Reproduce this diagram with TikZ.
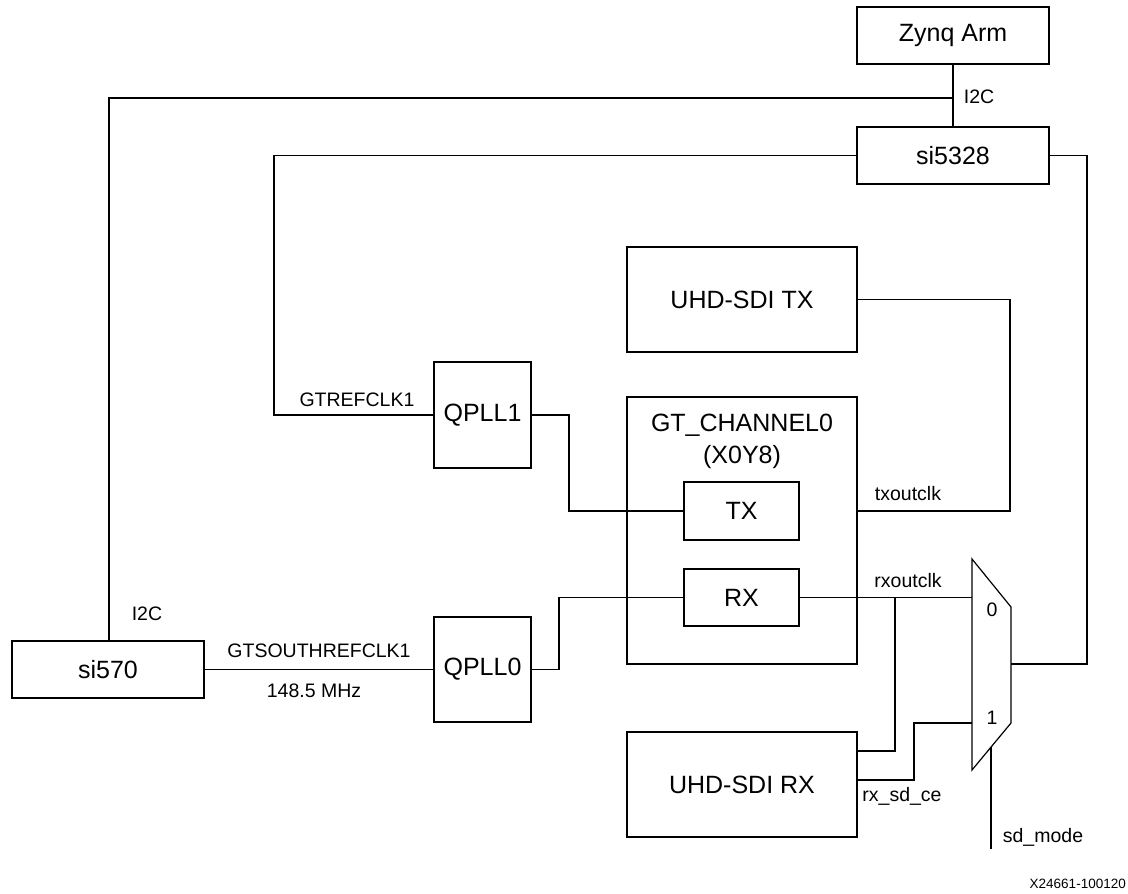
\documentclass[tikz,border=0pt]{standalone}
\usepackage{fontspec}
\setmainfont{Liberation Sans}
\begin{document}
\begin{tikzpicture}[x=1pt,y=-1pt,
  box/.style={draw,line width=1.2pt,inner sep=0pt,font=\fontsize{25}{28}\selectfont},
  lbl/.style={inner sep=0pt,font=\fontsize{19.5}{22}\selectfont},
  wire/.style={line width=1.2pt}]
\useasboundingbox (0,0) rectangle (1128,894);
% boxes
\node[box,minimum width=192pt,minimum height=57pt] (zynq) at (953,35.5) {Zynq Arm};
\node[box,minimum width=192pt,minimum height=57pt] (si5328) at (953,155.5) {si5328};
\node[box,minimum width=230pt,minimum height=105pt] (uhdtx) at (742,299.5) {UHD-SDI TX};
\node[box,minimum width=230pt,minimum height=267pt] (gt) at (742,530.5) {};
\node[inner sep=0pt,align=center,font=\fontsize{25}{32}\selectfont] (gtlbl) at (742,441) {GT\_CHANNEL0\\(X0Y8)};
\node[box,minimum width=115pt,minimum height=58pt] (tx) at (741.5,511) {TX};
\node[box,minimum width=115pt,minimum height=57pt] (rx) at (741.5,597.5) {RX};
\node[box,minimum width=97pt,minimum height=106pt] (qpll1) at (482.5,415) {QPLL1};
\node[box,minimum width=97pt,minimum height=105pt] (qpll0) at (482.5,669.5) {QPLL0};
\node[box,minimum width=192pt,minimum height=57pt] (si570) at (108,669.5) {si570};
\node[box,minimum width=230pt,minimum height=105pt] (uhdrx) at (742,784.5) {UHD-SDI RX};
% mux
\coordinate (m1) at (972,559);
\coordinate (m2) at (1011,607);
\coordinate (m3) at (1011,723);
\coordinate (m4) at (972,770);
\draw[wire] (m1) -- (m2) -- (m3) -- (m4) -- cycle;
\coordinate (in0) at (972,597.5);
\coordinate (in1) at (972,723);
\coordinate (mout) at (1011,664);
\coordinate (msel) at (991,747);
\coordinate (seltail) at (991,849);
% connectors
\draw[wire] (zynq.south) -- (si5328.north);
\coordinate (i2cj) at (953,98);
\draw[wire] (i2cj) -- (109,98) -- (si570.north -| 109,0);
\draw[wire] (si5328.west) -- (274,155.5) |- (qpll1.west);
\draw[wire] (si5328.east) -- (1087,155.5) |- (mout);
\draw[wire] (uhdtx.east) -- (1010,299.5) |- (gt.east |- tx.east);
\draw[wire] (qpll1.east) -- (569,415) |- (tx.west);
\draw[wire] (qpll0.east) -- (559,669.5) |- (rx.west);
\draw[wire] (si570.east) -- (qpll0.west);
\draw[wire] (rx.east) -- (in0);
\draw[wire] (uhdrx.east |- 0,751) -- (895,751) -- (895,597.5);
\draw[wire] (uhdrx.east |- 0,780) -- (914,780) |- (in1);
\draw[wire] (msel) -- (seltail);
% labels
\node[lbl] (l1) at (979,97) {I2C};
\node[lbl] (l2) at (147,614) {I2C};
\node[lbl] (l3) at (357,400) {GTREFCLK1};
\node[lbl] (l4) at (319,651) {GTSOUTHREFCLK1};
\node[lbl] (l5) at (314,691) {148.5 MHz};
\node[lbl] (l6) at (908,494) {txoutclk};
\node[lbl] (l7) at (908,581) {rxoutclk};
\node[lbl] (l8) at (902,796) {rx\_sd\_ce};
\node[lbl] (l9) at (1043,837) {sd\_mode};
\node[lbl] (l10) at (992,610) {0};
\node[lbl] (l11) at (992,718) {1};
\node[inner sep=0pt,anchor=east,font=\fontsize{13.5}{16}\selectfont] (fig) at (1126,884) {X24661-100120};
\end{tikzpicture}
\end{document}
